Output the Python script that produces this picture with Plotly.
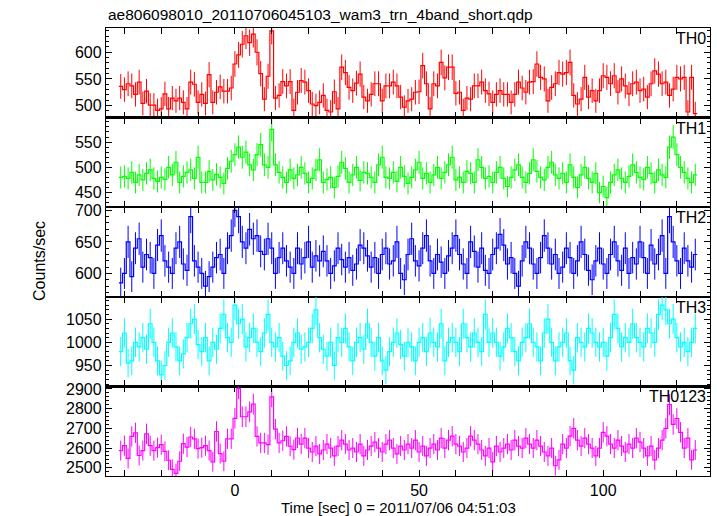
import numpy as np
import plotly.graph_objects as go
from plotly.subplots import make_subplots

T0 = -31  # centre of first 1-s bin
labels = ["TH0", "TH1", "TH2", "TH3", "TH0123"]
colors = ["#ff0000", "#00ff00", "#0000ff", "#00ffff", "#ff00ff"]

th0 = [536,530,541,537,521,544,504,527,501,501, 491,494,522,494,514,509,514,506,494,544,
       540,506,521,504,558,506,525,535,527,527, 533,
       578,595,615,631,618,634,600,560,512,555, 640,514,
       519,545,537,545,491,525,547,544,528,503, 500,506,519,491,488,526,494,572,562,534,
       528,542,559,516,509,521,541,541,509,537, 537,544,537,516,497,509,512,525,526,575,
       541,494,541,537,581,552,572,572,523,525, 491,514,512,537,537,544,528,522,506,521,
       528,521,521,506,521,
       544,533,525,544,545,578,553,550,509,534, 541,562,559,562,581,519,503,512,553,516,
       528,509,528,556,553,541,556,525,550,537, 522,541,544,528,531,516,541,565,559,541,
       544,519,531,553,550,553,488,553,485]

th1 = [480,482,478,490,470,485,475,488,495,478, 472,480,476,500,485,510,470,482,490,495,
       478,520,470,470,492,475,486,480,468,498, 512,525,540,520,530,505,495,525,545,505,
       500,575,505,490,480,470,495,478,485,500, 488,470,478,495,515,470,476,480,460,482,
       510,498,470,485,500,474,490,488,480,470, 505,520,480,478,490,472,500,482,468,480,
       495,510,478,488,470,485,500,478,490,505, 520,475,480,470,492,488,470,515,500,478,
       482,470,490,500,478,462,480,495,505,480, 470,488,515,492,480,475,500,510,485,478,
       488,470,505,480,460,485,500,478,470,488, 450,462,440,470,485,495,478,470,482,505,
       490,480,476,500,488,470,495,485,480,540, 560,525,500,490,478,470,485]

th2 = [585,600,650,595,640,655,610,630,625,600, 645,660,620,610,600,640,650,615,605,690,
       620,610,600,580,595,610,625,630,600,640, 660,700,690,650,640,670,655,660,635,630,
       655,640,600,625,640,620,610,600,640,615, 625,650,610,628,620,635,620,600,612,640,
       622,610,625,605,615,645,640,628,610,625, 600,630,640,615,620,650,600,590,630,655,
       620,612,640,660,620,600,630,618,600,628, 640,660,630,615,600,650,635,610,640,605,
       600,630,640,662,645,615,625,600,580,620, 650,640,615,600,625,660,640,615,630,600,
       610,640,625,600,620,650,630,605,590,620, 640,615,600,630,650,620,605,640,600,625,
       615,650,625,600,645,615,630,660,600,690, 650,620,600,640,620,610,630]

th3 = [980,1020,955,960,1000,990,1010,985,1040,1000, 960,930,950,1000,1020,990,960,975,1010,1040,
       1050,995,980,1010,960,1000,985,1030,1060,1010, 1000,1080,1040,1050,990,1010,1030,1000,980,1020,
       1060,1000,990,1010,970,950,960,1000,1020,985, 990,1000,1030,1070,1010,985,970,1000,950,1010,
       1000,1030,990,960,1000,1010,985,1040,1000,970, 1010,960,940,980,1000,1020,995,970,1000,990,
       960,1000,1010,980,1020,1000,990,1040,960,1000, 1010,1000,980,1040,1010,990,1020,1000,980,1060,
       1000,1020,1000,970,990,1030,1010,980,960,1000, 1010,1040,1000,990,960,1020,1050,1000,960,990,
       1000,1020,960,940,1010,1000,990,1030,1020,1000, 990,1000,970,1010,1060,1030,990,1010,1000,1040,
       1010,1000,990,1030,1020,1000,1060,1080,1070,1040, 1050,1010,990,1000,980,1000,1030]

th0123 = [2587,2612,2547,2659,2677,2562,2587,2672,2612,2587, 2602,2617,2583,2538,2492,2471,2533,2622,2605,2656,
          2647,2597,2602,2612,2587,2530,2684,2572,2533,2647, 2647,
          2751,2902,2759,2759,2784,2823,2659,2626,2626,2617, 2860,2696,2626,2637,2659,2609,2592,2651,
          2620,2650,2600,2580,2610,2570,2590,2620,2600,2560, 2610,2640,2620,2590,2600,2580,2620,2560,2590,2610,
          2630,2600,2580,2620,2640,2600,2570,2610,2590,2620, 2600,2640,2580,2610,2560,2600,2620,2590,2650,2600,
          2640,2660,2620,2610,2580,2600,2660,2640,2620,2590, 2560,2600,2530,2610,2580,2600,2620,2590,2640,2610,
          2600,2650,2620,2600,2640,2610,2580,2560,2600,2510, 2540,2620,2600,2660,2700,2640,2610,2650,2620,2600,
          2560,2600,2680,2660,2620,2600,2640,2610,2580,2620, 2600,2650,2630,2600,2560,2610,2540,2600,2640,2700,
          2820,2720,2750,2680,2600,2650,2540,2590]

series = [th0, th1, th2, th3, th0123]
y_ranges = [[477.5, 645.5], [421, 598.5], [563, 705], [905, 1098], [2458, 2913]]
y_dticks = [50, 50, 50, 50, 100]
y_minor = [10, 10, 10, 10, 20]
x_range = [-35, 129]

W, H = 717, 516
ML, MR, MT, MB = 106, 7, 28, 40
FONT = "Liberation Sans, Arial, Helvetica, sans-serif"

fig = make_subplots(rows=5, cols=1, shared_xaxes=True, vertical_spacing=0)

for i, (vals, col) in enumerate(zip(series, colors)):
    v = np.array(vals, dtype=float)
    t = T0 + np.arange(len(v))
    err = np.sqrt(v)
    xe = np.concatenate([t - 0.5, [t[-1] + 0.5]])
    ye = np.concatenate([v, [v[-1]]])
    fig.add_trace(go.Scatter(x=t, y=v, mode="markers", marker=dict(size=0.1, color=col),
                             error_y=dict(type="data", array=err, color=col, thickness=1, width=0),
                             showlegend=False, hoverinfo="skip"), row=i + 1, col=1)
    fig.add_trace(go.Scatter(x=xe, y=ye, mode="lines", line=dict(shape="hv", color=col, width=1.2),
                             showlegend=False, hoverinfo="skip"), row=i + 1, col=1)

axis_common = dict(showline=True, linecolor="black", linewidth=1.2, mirror="allticks",
                   ticks="inside", tickcolor="black", showgrid=False, zeroline=False,
                   tickfont=dict(family=FONT, size=16, color="black"))

for i in range(5):
    fig.update_yaxes(range=y_ranges[i], dtick=y_dticks[i], tick0=0, ticklen=6, tickwidth=1,
                     minor=dict(dtick=y_minor[i], ticklen=3, ticks="inside", tickcolor="black", tickwidth=1),
                     row=i + 1, col=1, **axis_common)
    fig.update_xaxes(range=x_range, dtick=50, tick0=0, ticklen=6, tickwidth=1,
                     minor=dict(dtick=10, ticklen=6, ticks="inside", tickcolor="black", tickwidth=1),
                     showticklabels=(i == 4), row=i + 1, col=1, **axis_common)

annotations = []
for i, lab in enumerate(labels):
    annotations.append(dict(text=lab, xref="paper", yref="paper", x=1.0, y=1 - i * 0.2,
                            xanchor="right", yanchor="top", xshift=-2, yshift=0, showarrow=False,
                            font=dict(family=FONT, size=16, color="black")))
annotations.append(dict(text="ae806098010_20110706045103_wam3_trn_4band_short.qdp",
                        xref="paper", yref="paper", x=0, y=1, xanchor="left", yanchor="bottom",
                        yshift=3, showarrow=False, font=dict(family=FONT, size=15.5, color="black")))
annotations.append(dict(text="Counts/sec", xref="paper", yref="paper", x=0, y=0.48, xshift=-66,
                        textangle=-90, xanchor="center", yanchor="middle", showarrow=False,
                        font=dict(family=FONT, size=16, color="black")))
annotations.append(dict(text="Time [sec] 0 = 2011/07/06 04:51:03", xref="paper", yref="paper",
                        x=0.485, y=0, yshift=-21, xanchor="center", yanchor="top", showarrow=False,
                        font=dict(family=FONT, size=15, color="black")))

fig.update_layout(width=W, height=H, margin=dict(l=ML, r=MR, t=MT, b=MB),
                  paper_bgcolor="white", plot_bgcolor="white", annotations=annotations,
                  font=dict(family=FONT, size=16, color="black"), hovermode=False)

fig.write_html("out.html", config={"displayModeBar": False, "staticPlot": True},
               post_script="document.body.style.margin='0';document.body.style.overflow='hidden';")
